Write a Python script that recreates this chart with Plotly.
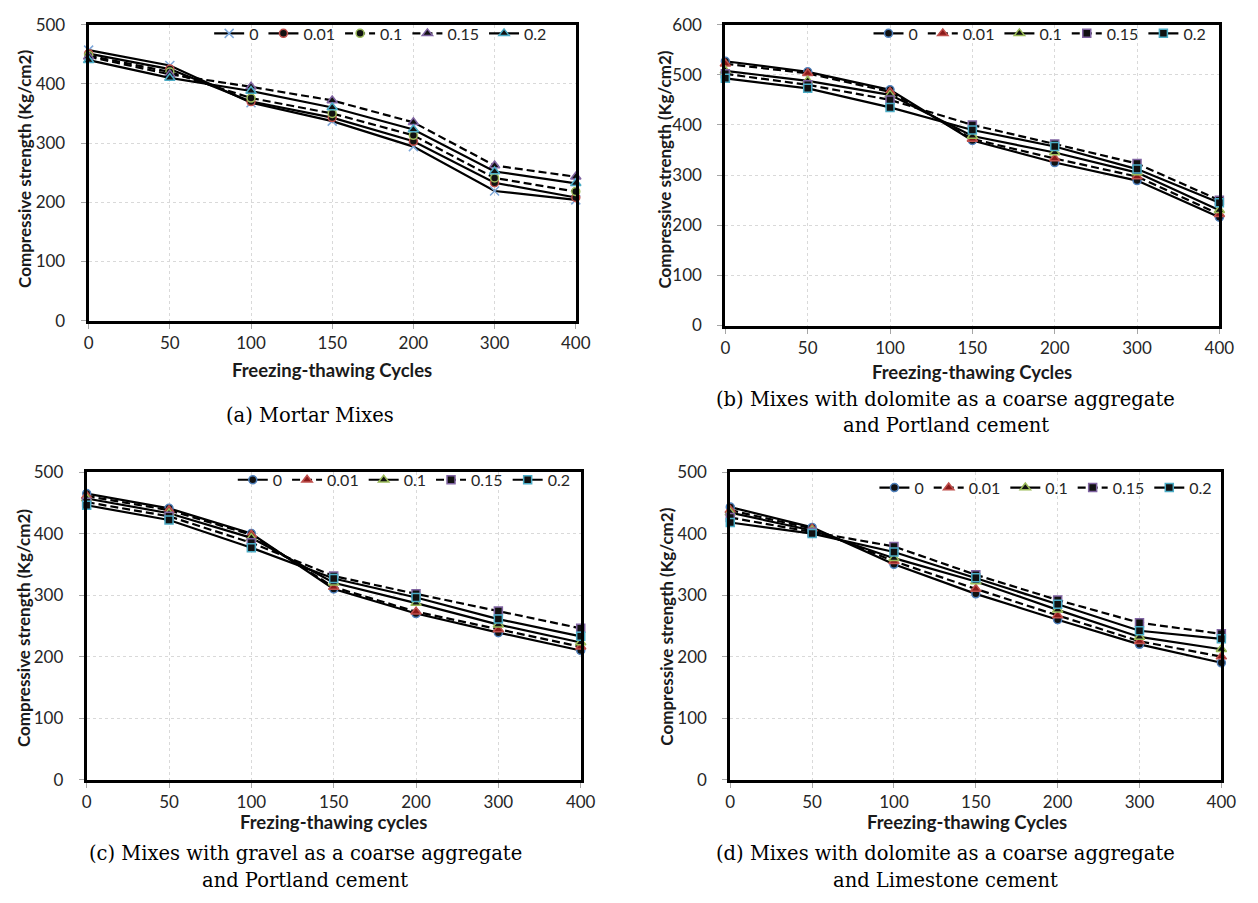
import plotly.graph_objects as go

W, H = 1258, 903

# ---------------- data ----------------
cycles = ["0", "50", "100", "150", "200", "300", "400"]
mix_labels = ["0", "0.01", "0.1", "0.15", "0.2"]

# (a) Mortar mixes
a_0 = [457, 431, 368, 337, 294, 219, 204]
a_001 = [451, 425, 370, 343, 303, 233, 208]
a_01 = [448, 420, 376, 350, 313, 241, 218]
a_015 = [446, 416, 395, 372, 335, 262, 243]
a_02 = [440, 410, 388, 360, 323, 252, 232]

# (b) dolomite + Portland cement
b_0 = [527, 506, 470, 369, 325, 289, 216]
b_001 = [522, 503, 466, 372, 333, 297, 222]
b_01 = [508, 488, 460, 378, 345, 305, 230]
b_015 = [502, 480, 450, 400, 362, 323, 250]
b_02 = [493, 473, 435, 390, 357, 312, 245]

# (c) gravel + Portland cement
c_0 = [465, 441, 400, 310, 270, 239, 210]
c_001 = [461, 438, 398, 313, 273, 244, 216]
c_01 = [457, 433, 393, 320, 287, 252, 223]
c_015 = [451, 428, 385, 331, 302, 274, 246]
c_02 = [446, 422, 377, 327, 296, 261, 233]

# (d) dolomite + Limestone cement
d_0 = [443, 410, 350, 302, 260, 220, 190]
d_001 = [438, 408, 355, 310, 267, 225, 200]
d_01 = [434, 405, 360, 322, 276, 232, 212]
d_015 = [426, 402, 379, 333, 292, 255, 237]
d_02 = [418, 400, 370, 328, 285, 242, 229]

y_title = "Compressive strength (Kg/cm2)"
x_titles = ["Freezing-thawing Cycles", "Freezing-thawing Cycles",
            "Frezing-thawing cycles", "Freezing-thawing Cycles"]
captions = [
    ["(a) Mortar Mixes"],
    ["(b) Mixes with dolomite as a coarse aggregate", "and Portland cement"],
    ["(c) Mixes with gravel as a coarse aggregate", "and Portland cement"],
    ["(d) Mixes with dolomite as a coarse aggregate", "and Limestone cement"],
]

# ---------------- styles ----------------
BLUE, RED, GREEN, PURPLE, AQUA = "#4F81BD", "#C0504D", "#9BBB59", "#8064A2", "#4BACC6"
DASH = "8px,4px"
style_a = [
    dict(symbol="x-thin", fill="#7DA7D9", edge="#7DA7D9", dash="solid", size=9),
    dict(symbol="circle", fill="#111111", edge=RED, dash="solid", size=8),
    dict(symbol="circle", fill="#111111", edge=GREEN, dash=DASH, size=8),
    dict(symbol="triangle-up", fill="#111111", edge=PURPLE, dash=DASH, size=9),
    dict(symbol="triangle-up", fill="#111111", edge=AQUA, dash="solid", size=9),
]
style_b = [
    dict(symbol="circle", fill="#111111", edge=BLUE, dash="solid", size=8),
    dict(symbol="triangle-up", fill="#8B1A1A", edge=RED, dash=DASH, size=9),
    dict(symbol="triangle-up", fill="#111111", edge=GREEN, dash="solid", size=9),
    dict(symbol="square", fill="#111111", edge=PURPLE, dash=DASH, size=8),
    dict(symbol="square", fill="#111111", edge=AQUA, dash="solid", size=8),
]

panels = [
    dict(data=[a_0, a_001, a_01, a_015, a_02], style=style_a, xpx=(85, 580), ypx=(14, 317), ymax=500,
         ytc=162, ytx=20, xtc=332, xty=368, cap_x=310, cap_y=[414], leg=(556, 23)),
    dict(data=[b_0, b_001, b_01, b_015, b_02], style=style_b, xpx=(732, 1234), ypx=(14, 322), ymax=600,
         ytc=162, ytx=670, xtc=983, xty=370, cap_x=956, cap_y=[398, 424], leg=(1226, 23)),
    dict(data=[c_0, c_001, c_01, c_015, c_02], style=style_b, xpx=(83, 585), ypx=(472, 787), ymax=500,
         ytc=632, ytx=19, xtc=334, xty=830, cap_x=305, cap_y=[863, 890], leg=(580, 480)),
    dict(data=[d_0, d_001, d_01, d_015, d_02], style=style_b, xpx=(737, 1236), ypx=(472, 787), ymax=500,
         ytc=630, ytx=672, xtc=978, xty=830, cap_x=956, cap_y=[863, 890], leg=(1232, 488)),
]

AXFONT = "Lato, 'Open Sans', Arial, sans-serif"
SERIF = "'DejaVu Serif', 'Liberation Serif', serif"

fig = go.Figure()
layout = dict(
    width=W, height=H, margin=dict(l=0, r=0, t=0, b=0),
    paper_bgcolor="white", plot_bgcolor="white", showlegend=True,
    font=dict(family=AXFONT, size=16, color="#262626"),
)
annotations = []

for i, p in enumerate(panels):
    n = "" if i == 0 else str(i + 1)
    xa, ya = "x" + n, "y" + n
    leg = "legend" + n
    for vals, name, st in zip(p["data"], mix_labels, p["style"]):
        fig.add_trace(go.Scatter(
            x=cycles, y=vals, name=name, mode="lines+markers",
            xaxis=xa, yaxis=ya, legend=leg, cliponaxis=False,
            line=dict(color="black", width=2.2, dash=st["dash"]),
            marker=dict(symbol=st["symbol"], size=st["size"], color=st["fill"],
                        line=dict(color=st["edge"], width=1.5)),
        ))
    x0, x1 = p["xpx"]
    y0, y1 = p["ypx"]
    axcommon = dict(showline=True, linecolor="black", linewidth=3, mirror=True,
                    showgrid=True, gridcolor="#d9d9d9", griddash="dot", gridwidth=1,
                    ticks="outside", ticklen=5, tickcolor="#a6a6a6", zeroline=False,
                    tickfont=dict(family=AXFONT, size=17, color="#262626"))
    layout["xaxis" + n] = dict(axcommon, domain=[x0 / W, x1 / W], anchor=ya, type="category",
                               range=[0, 6], ticklabelstandoff=0)
    layout["yaxis" + n] = dict(axcommon, domain=[1 - y1 / H, 1 - y0 / H], anchor=xa,
                               range=[0, p["ymax"]], dtick=100, ticklabelstandoff=12)
    lx, ly = p["leg"]
    layout[leg] = dict(orientation="h", x=lx / W, y=1 - ly / H, xanchor="right", yanchor="middle",
                       bgcolor="rgba(0,0,0,0)", borderwidth=0,
                       font=dict(family=AXFONT, size=16, color="#262626"),
                       itemwidth=30, tracegroupgap=0)
    annotations.append(dict(text="<b>%s</b>" % y_title, x=p["ytx"] / W, y=1 - p["ytc"] / H,
                            xref="paper", yref="paper", showarrow=False, textangle=-90,
                            xanchor="center", yanchor="middle",
                            font=dict(family=AXFONT, size=17, color="#1a1a1a")))
    annotations.append(dict(text="<b>%s</b>" % x_titles[i], x=p["xtc"] / W, y=1 - p["xty"] / H,
                            xref="paper", yref="paper", showarrow=False,
                            xanchor="center", yanchor="middle",
                            font=dict(family=AXFONT, size=18.5, color="#1a1a1a")))
    for line, cy in zip(captions[i], p["cap_y"]):
        annotations.append(dict(text=line, x=p["cap_x"] / W, y=1 - cy / H,
                                xref="paper", yref="paper", showarrow=False,
                                xanchor="center", yanchor="middle",
                                font=dict(family=SERIF, size=19.5, color="black")))

layout["annotations"] = annotations
fig.update_layout(**layout)
fig.write_html("out.html")
